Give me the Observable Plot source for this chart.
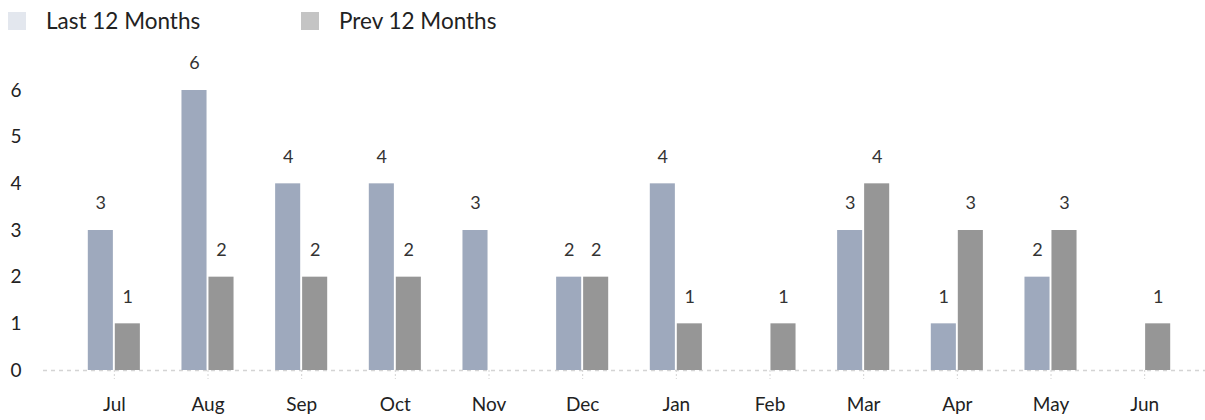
<!DOCTYPE html>
<html>
<head>
<meta charset="utf-8">
<script src="https://cdn.jsdelivr.net/npm/d3@7"></script>
<script src="https://cdn.jsdelivr.net/npm/@observablehq/plot@0.6"></script>
<style>
  body { margin: 0; background: #fff; font-family: Lato, "Noto Sans", sans-serif; }
  #legend { position: relative; height: 45px; width: 1205px; }
  .item { position: absolute; top: 8px; display: flex; align-items: center; font-size: 22.5px; color: #222; line-height: 26px; }
  .sw { width: 18px; height: 18px; margin-right: 20px; }
</style>
</head>
<body>
<div id="legend"></div>
<div id="chart"></div>
<script>
const months = ["Jul","Aug","Sep","Oct","Nov","Dec","Jan","Feb","Mar","Apr","May","Jun"];
const lastValues = [3,6,4,4,3,2,4,0,3,1,2,0];
const prevValues = [1,2,2,2,0,2,1,1,4,3,3,1];
const seriesNames = ["Last 12 Months","Prev 12 Months"];
const barColors = ["#9ea9bd","#969696"];
const swatchColors = ["#e3e7ee","#c4c4c4"];
const yTicks = [0,1,2,3,4,5,6];

const legend = document.getElementById("legend");
const legendX = [8, 301];
seriesNames.forEach((name, i) => {
  const d = document.createElement("div");
  d.className = "item";
  d.style.left = legendX[i] + "px";
  d.innerHTML = `<span class="sw" style="background:${swatchColors[i]}"></span><span>${name}</span>`;
  legend.appendChild(d);
});

const lastData = months.map((m, i) => ({month: m, value: lastValues[i]})).filter(d => d.value > 0);
const prevData = months.map((m, i) => ({month: m, value: prevValues[i]})).filter(d => d.value > 0);

const chart = Plot.plot({
  width: 1205,
  height: 375,
  marginTop: 45,
  marginBottom: 50,
  marginLeft: 67,
  marginRight: 14,
  style: {fontFamily: "Lato, 'Noto Sans', sans-serif", fontSize: "18px", color: "#222", background: "#fff"},
  x: {domain: months, padding: 0, round: false, label: null},
  y: {domain: [0, 6], label: null},
  marks: [
    Plot.ruleY([0], {stroke: "#d4d4d4", strokeWidth: 1.5, strokeDasharray: "4,4", insetLeft: -24, insetRight: -14}),
    Plot.barY(lastData, {x: "month", y: "value", fill: barColors[0], insetLeft: 20.8, insetRight: 47.8}),
    Plot.barY(prevData, {x: "month", y: "value", fill: barColors[1], insetLeft: 47.8, insetRight: 20.8}),
    Plot.text(lastData, {x: "month", y: "value", text: "value", dx: -13.5, dy: -27, fill: "#333", fontSize: 18}),
    Plot.text(prevData, {x: "month", y: "value", text: "value", dx: 13.5, dy: -27, fill: "#333", fontSize: 18}),
    Plot.axisX({tickSize: 9, tickPadding: 18, stroke: "#d4d4d4", strokeDasharray: "2,2", fontSize: 19, fill: "#222"}),
    Plot.axisY({ticks: yTicks, tickSize: 0, tickPadding: 57, textAnchor: "start", fontSize: 19, fill: "#222", tickFormat: d3.format("d")})
  ]
});
document.getElementById("chart").appendChild(chart);
</script>
</body>
</html>
